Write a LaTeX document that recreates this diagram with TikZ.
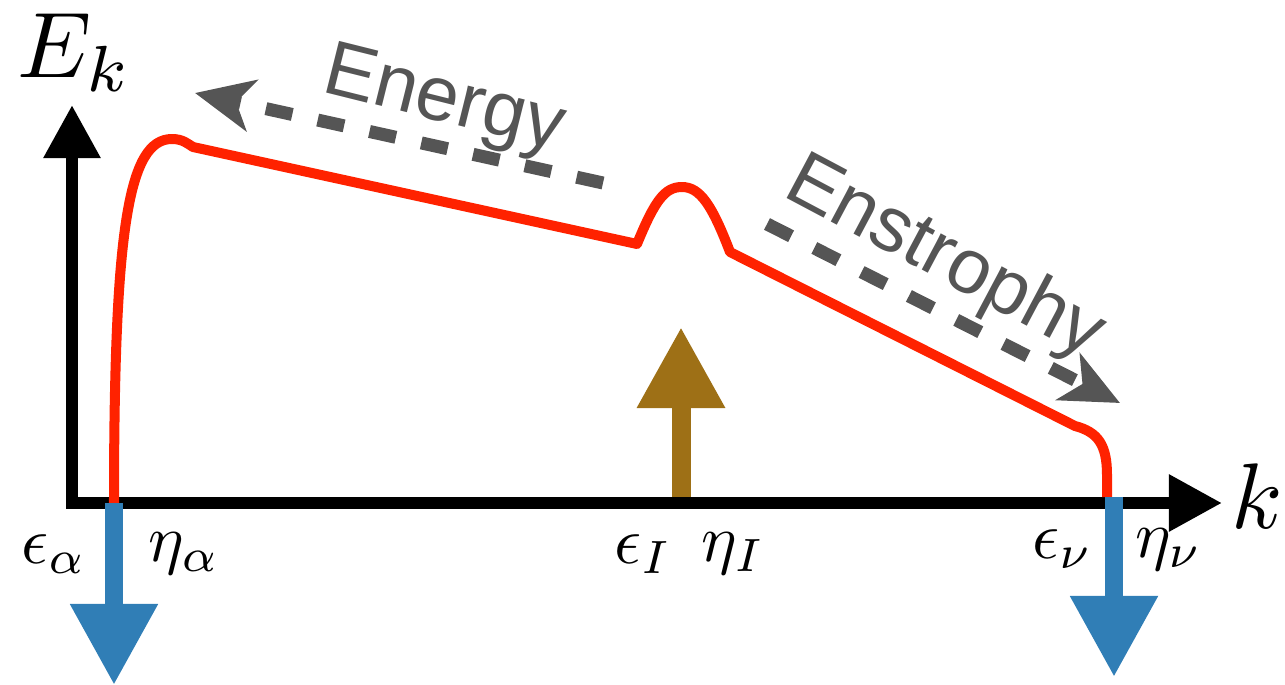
\documentclass[tikz,border=0pt]{standalone}
\usepackage{fontspec}
\newfontfamily\cascadefont{Liberation Sans}
\usepackage{tikz}
\usetikzlibrary{arrows.meta}

\definecolor{spectrumred}{RGB}{255,34,0}
\definecolor{sinkblue}{RGB}{48,126,182}
\definecolor{sourcegold}{RGB}{158,112,22}
\definecolor{fluxgray}{RGB}{85,85,85}

\begin{document}
\begin{tikzpicture}[x=0.01cm, y=-0.01cm,
          axis/.style={line width=0.12cm, line join=miter,
            {Triangle[length=0.53cm,width=0.54cm]}-{Triangle[length=0.53cm,width=0.54cm]}},
          spectrum/.style={spectrumred, line width=0.1cm, line join=round},
          sink/.style={sinkblue, line width=0.18cm, -{Triangle[length=0.81cm,width=0.83cm]}},
          source/.style={sourcegold, line width=0.19cm, -{Triangle[length=0.81cm,width=0.83cm]}},
          cascade/.style={fluxgray, line width=0.13cm, dash pattern=on 0.27cm off 0.26cm,
            -{Stealth[length=0.58cm,width=0.52cm,inset=0.16cm]}},
          lab/.style={inner sep=0pt, anchor=base west, scale=1.9},
          axlab/.style={inner sep=0pt, anchor=base west, scale=2.65},
          fluxlab/.style={inner sep=0pt, anchor=base, text=fluxgray,
            font=\cascadefont\fontsize{22}{26}\selectfont}]
          \useasboundingbox (0,0) rectangle (1285,685);

          % axes
          \coordinate (O) at (72,503);
          \coordinate (ytip) at (72,105);
          \coordinate (xtip) at (1222,503);
          \draw[axis] (ytip) -- (O) -- (xtip);
          \node[axlab] (Ek) at (16,78) {$E_k$};
          \node[axlab] (k) at (1230,528) {$k$};

          % spectrum
          \coordinate (s0) at (114,503);
          \coordinate (s1) at (193,147);
          \coordinate (s2) at (637,244);
          \coordinate (s3) at (730,252);
          \coordinate (s4) at (1075,426);
          \coordinate (s5) at (1107,497);
          \draw[spectrum] (s0) .. controls (114,230) and (128,139) .. (172,139)
            .. controls (183,139) and (188,144) .. (s1) -- (s2)
            .. controls (655,200) and (665,187) .. (682,187)
            .. controls (700,187) and (712,205) .. (s3) -- (s4)
            .. controls (1098,432) and (1107,445) .. (1107,475) -- (s5);

          % sinks and source
          \coordinate (sinkL) at (114,503);
          \coordinate (sinkLtip) at (114,685);
          \coordinate (sinkR) at (1114,497);
          \coordinate (sinkRtip) at (1114,677);
          \coordinate (srcI) at (681,497);
          \coordinate (srcItip) at (681,327);
          \draw[sink] (sinkL) -- (sinkLtip);
          \draw[sink] (sinkR) -- (sinkRtip);
          \draw[source] (srcI) -- (srcItip);

          \node[lab] (epsA) at (20,563) {$\epsilon_\alpha$};
          \node[lab] (etaA) at (147,561) {$\eta_\alpha$};
          \node[lab] (epsI) at (613,563) {$\epsilon_I$};
          \node[lab] (etaI) at (700,561) {$\eta_I$};
          \node[lab] (epsN) at (1031,558) {$\epsilon_\nu$};
          \node[lab] (etaN) at (1134,557) {$\eta_\nu$};

          % cascades
          \coordinate (enA) at (603,183);
          \coordinate (enB) at (195,93);
          \coordinate (ensA) at (767,224);
          \coordinate (ensB) at (1120,403);
          \draw[cascade] (enA) -- (enB);
          \draw[cascade] (ensA) -- (ensB);
          \node[fluxlab, rotate=-14] (energy) at (439,121) {Energy};
          \node[fluxlab, rotate=-28] (enstrophy) at (935,277) {Enstrophy};
        \end{tikzpicture}
\end{document}
